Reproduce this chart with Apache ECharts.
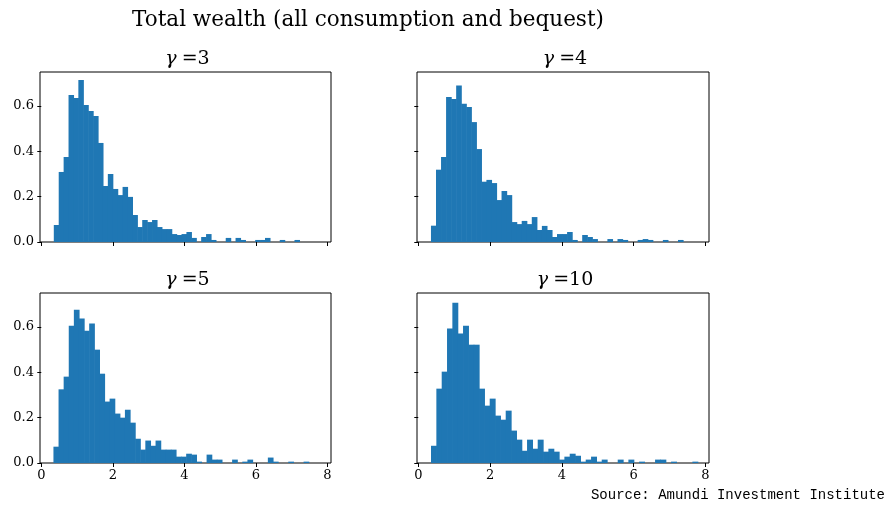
<!DOCTYPE html>
<html>
<head>
<meta charset="utf-8">
<script src="https://cdn.jsdelivr.net/npm/echarts@6/dist/echarts.min.js"></script>
<style>
  html, body { margin: 0; padding: 0; background: #fff; }
  #chart { width: 887px; height: 506px; }
</style>
</head>
<body>
<div id="chart"></div>
<script>
// Density histograms of total wealth, 50 bins each, one panel per risk aversion.
const panelTitles = ['3', '4', '5', '10'];

// bin range [min, max] of each sample
const range3 = [0.35, 7.22];
const range4 = [0.353, 7.38];
const range5 = [0.34, 7.48];
const range10 = [0.355, 7.79];

// density per bin
const gamma3 = [0.075, 0.309, 0.375, 0.649, 0.635, 0.715, 0.604, 0.578, 0.556, 0.437,
  0.247, 0.300, 0.234, 0.207, 0.243, 0.199, 0.119, 0.066, 0.097, 0.088,
  0.097, 0.066, 0.057, 0.057, 0.035, 0.031, 0.035, 0.044, 0.018, 0,
  0.022, 0.035, 0.009, 0, 0, 0.018, 0, 0.018, 0.009, 0,
  0, 0.009, 0.009, 0.018, 0, 0, 0.009, 0, 0, 0.009];
const gamma4 = [0.072, 0.319, 0.375, 0.640, 0.631, 0.690, 0.610, 0.596, 0.529, 0.410,
  0.266, 0.274, 0.260, 0.185, 0.225, 0.207, 0.088, 0.079, 0.093, 0.079,
  0.110, 0.053, 0.071, 0.053, 0.022, 0.035, 0.035, 0.044, 0.009, 0,
  0.031, 0.022, 0.013, 0, 0, 0.013, 0, 0.013, 0.009, 0,
  0, 0.009, 0.013, 0.009, 0, 0, 0.009, 0, 0, 0.009];
const gamma5 = [0.072, 0.325, 0.381, 0.606, 0.676, 0.637, 0.584, 0.615, 0.500, 0.394,
  0.271, 0.284, 0.218, 0.200, 0.235, 0.178, 0.107, 0.059, 0.099, 0.076,
  0.099, 0.059, 0.059, 0.059, 0.028, 0.028, 0.041, 0.037, 0.006, 0,
  0.037, 0.015, 0.015, 0, 0, 0.015, 0, 0.006, 0.015, 0,
  0, 0, 0.024, 0.006, 0, 0, 0.006, 0, 0, 0.006];
const gamma10 = [0.076, 0.328, 0.403, 0.593, 0.707, 0.571, 0.606, 0.522, 0.522, 0.328,
  0.253, 0.284, 0.209, 0.191, 0.231, 0.143, 0.103, 0.054, 0.103, 0.063,
  0.103, 0.050, 0.063, 0.050, 0.015, 0.028, 0.041, 0.032, 0.006, 0.015,
  0.028, 0.006, 0.015, 0, 0, 0.015, 0, 0.015, 0, 0.006,
  0, 0, 0.015, 0.015, 0, 0.006, 0, 0, 0, 0.006];

const xTicks = [0, 2, 4, 6, 8];
const yTicks = [0, 0.2, 0.4, 0.6];

const histograms = [gamma3, gamma4, gamma5, gamma10];
const ranges = [range3, range4, range5, range10];

const SERIF = "'DejaVu Serif', 'Liberation Serif', serif";
const BAR = '#1f77b4';

// panel frames: left column / right column, top row / bottom row
const frames = [
  { left: 40, top: 72, width: 291, height: 170, xLabels: false, yLabels: true },
  { left: 417, top: 72, width: 292, height: 170, xLabels: false, yLabels: false },
  { left: 40, top: 293, width: 291, height: 170, xLabels: true, yLabels: true },
  { left: 417, top: 293, width: 292, height: 170, xLabels: true, yLabels: false }
];

function binRows(values, range) {
  const w = (range[1] - range[0]) / values.length;
  return values.map((h, i) => [range[0] + i * w, range[0] + (i + 1) * w, h]);
}

const grid = [], xAxis = [], yAxis = [], series = [], titles = [];
frames.forEach((f, i) => {
  grid.push({ left: f.left, top: f.top, width: f.width, height: f.height,
    show: true, borderColor: '#000', borderWidth: 1, backgroundColor: 'transparent' });
  xAxis.push({
    type: 'value', gridIndex: i, min: -0.036, max: 8.104,
    splitLine: { show: false }, axisLine: { show: false },
    axisTick: { show: true, length: 4, lineStyle: { color: '#000', width: 1 }, customValues: xTicks },
    axisLabel: { show: f.xLabels, customValues: xTicks, color: '#000', fontFamily: SERIF, fontSize: 13, margin: 6 }
  });
  yAxis.push({
    type: 'value', gridIndex: i, min: 0, max: 0.75,
    splitLine: { show: false }, axisLine: { show: false },
    axisTick: { show: true, length: 4, lineStyle: { color: '#000', width: 1 }, customValues: yTicks },
    axisLabel: { show: f.yLabels, customValues: yTicks, color: '#000', fontFamily: SERIF, fontSize: 13, margin: 6,
      formatter: v => v.toFixed(1) }
  });
  series.push({
    type: 'custom', xAxisIndex: i, yAxisIndex: i,
    data: binRows(histograms[i], ranges[i]),
    encode: { x: [0, 1], y: 2 },
    z: 1,
    renderItem: (params, api) => {
      if (!api.value(2)) return null;
      const p0 = api.coord([api.value(0), 0]);
      const p1 = api.coord([api.value(1), api.value(2)]);
      // slight overlap so neighbouring bins merge without hairline gaps
      return { type: 'rect',
        shape: { x: p0[0], y: p1[1], width: p1[0] - p0[0] + 0.6, height: p0[1] - p1[1] },
        style: { fill: BAR } };
    }
  });
  titles.push({
    text: '{g|γ} {t|=' + panelTitles[i] + '}',
    left: f.left + f.width / 2 - 3, top: f.top - 27, textAlign: 'center',
    textStyle: { fontWeight: 'normal', rich: {
      g: { fontFamily: SERIF, fontStyle: 'italic', fontWeight: 'normal', fontSize: 19, color: '#000' },
      t: { fontFamily: SERIF, fontWeight: 'normal', fontSize: 19, color: '#000' }
    } }
  });
});

titles.push({
  text: 'Total wealth (all consumption and bequest)',
  left: 363, top: 4, textAlign: 'center',
  textStyle: { fontFamily: SERIF, fontSize: 21.5, fontWeight: 'normal', color: '#000' }
});
titles.push({
  text: 'Source: Amundi Investment Institute',
  right: 2, top: 488, padding: 0,
  textStyle: { fontFamily: "'Liberation Mono', 'DejaVu Sans Mono', monospace", fontSize: 14, fontWeight: 'normal', color: '#000' }
});

const chart = echarts.init(document.getElementById('chart'), null, { renderer: 'canvas' });
chart.setOption({
  animation: false,
  backgroundColor: '#fff',
  title: titles,
  grid: grid,
  xAxis: xAxis,
  yAxis: yAxis,
  series: series
});
</script>
</body>
</html>
